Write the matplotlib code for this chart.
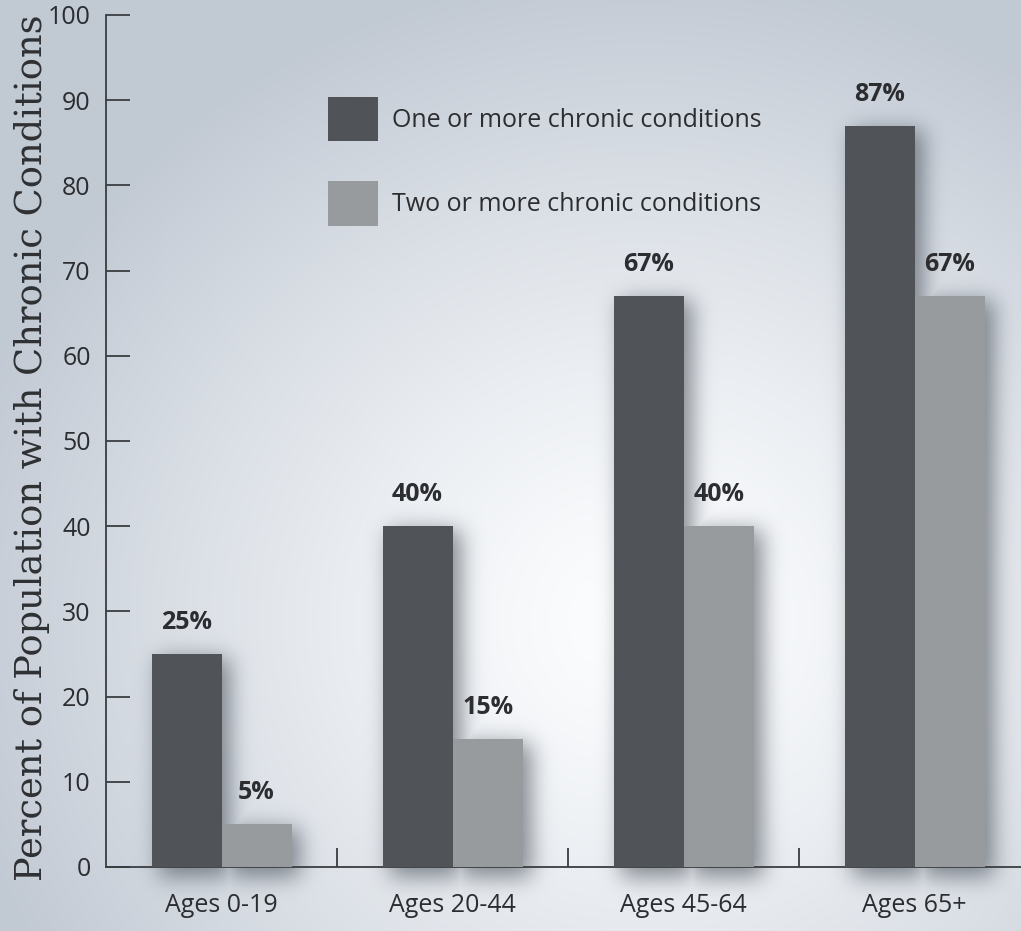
import math
import numpy as np
import matplotlib.pyplot as plt
from matplotlib.ticker import FixedLocator

categories = ['Ages 0-19', 'Ages 20-44', 'Ages 45-64', 'Ages 65+']
one_or_more = [25, 40, 67, 87]
two_or_more = [5, 15, 40, 67]
series_names = ['One or more chronic conditions', 'Two or more chronic conditions']
y_ticks = [0, 10, 20, 30, 40, 50, 60, 70, 80, 90, 100]

dark = '#505459'
light = '#989b9e'
ink = '#2b2d30'
sans = ['Open Sans', 'DejaVu Sans']

W, H = 1021, 931
fig = plt.figure(figsize=(W / 100, H / 100), dpi=100)
bg = fig.add_axes([0, 0, 1, 1], zorder=0)
bg.set_axis_off()
ax = fig.add_axes([106 / W, 1 - 867 / H, (W - 106) / W, 852 / H], zorder=1)
ax.patch.set_alpha(0)

x = np.arange(len(categories))
bw = 0.303
ax.set_xlim(-0.5, 3.46)
ax.set_ylim(0, 100)

b1 = ax.bar(x - bw / 2, one_or_more, bw, color=dark, label=series_names[0], zorder=3)
b2 = ax.bar(x + bw / 2, two_or_more, bw, color=light, label=series_names[1], zorder=3)

for bars, vals in ((b1, one_or_more), (b2, two_or_more)):
    for r, v in zip(bars, vals):
        ax.annotate(f'{v}%', (r.get_x() + r.get_width() / 2, v), xytext=(0, 18),
                    textcoords='offset points', ha='center', va='baseline',
                    fontsize=18, fontweight='bold', color=ink, family=sans)

# background: soft radial gradient plus blurred drop shadows under the bars
yy, xx = np.mgrid[0:H, 0:W]
d = np.sqrt(((xx - 640) / 700.0) ** 2 + ((yy - 620) / 650.0) ** 2)
t = np.clip(d, 0, 1) ** 1.3
white = np.array([0.99, 0.995, 1.0])
edge = np.array([0.76, 0.79, 0.83])
img = white[None, None, :] * (1 - t[..., None]) + edge[None, None, :] * t[..., None]

fig.canvas.draw()
phi = np.vectorize(lambda z: 0.5 * (1 + math.erf(z / math.sqrt(2))))
sig = 11.0
px = np.arange(W) + 0.5
py = np.arange(H) + 0.5
shadow = np.zeros((H, W))
for r in list(b1) + list(b2):
    (x0, y0), (x1, y1) = ax.transData.transform([(r.get_x(), 0), (r.get_x() + r.get_width(), r.get_height())])
    # pixel rows measured from the top of the figure
    top, bot = H - y1, H - y0
    x0, x1, top, bot = x0 + 7, x1 + 8, top + 4, bot + 10
    sx = phi((px - x0) / sig) - phi((px - x1) / sig)
    sy = phi((py - top) / sig) - phi((py - bot) / sig)
    shadow = np.maximum(shadow, sy[:, None] * sx[None, :])
a = 0.6 * shadow
shade = np.array([0.23, 0.26, 0.30])
img = img * (1 - a[..., None]) + shade[None, None, :] * a[..., None]
bg.imshow(img, extent=(0, W, 0, H), aspect='auto', interpolation='bilinear')
bg.set_xlim(0, W)
bg.set_ylim(0, H)

for s in ('top', 'right'):
    ax.spines[s].set_visible(False)
for s in ('left', 'bottom'):
    ax.spines[s].set_color('#3a3d40')
    ax.spines[s].set_linewidth(1.3)

ax.set_yticks(y_ticks)
ax.tick_params(axis='y', direction='in', length=17, width=1.3, color='#3a3d40',
               pad=11, labelsize=18, labelcolor=ink)
ax.set_xticks(x)
ax.set_xticklabels(categories)
ax.tick_params(axis='x', which='major', length=0, pad=19, labelsize=18, labelcolor=ink)
ax.xaxis.set_minor_locator(FixedLocator([0.5, 1.5, 2.5]))
ax.tick_params(axis='x', which='minor', direction='in', length=14, width=1.3, color='#3a3d40')
for lab in ax.get_xticklabels() + ax.get_yticklabels():
    lab.set_family(sans)

ax.set_ylabel('Percent of Population with Chronic Conditions', family=['DejaVu Serif'],
              fontsize=26.5, color='#2e3033')
ax.yaxis.set_label_coords(-0.061, 0.492)

ax.legend(loc='upper left', bbox_to_anchor=(328 / W, 1 - 97 / H), bbox_transform=fig.transFigure,
          frameon=False, handlelength=2.0, handleheight=2.35, labelspacing=1.6,
          handletextpad=0.55, borderaxespad=0, borderpad=0, labelcolor=ink,
          prop={'family': sans, 'size': 18})

fig.savefig('out.png', dpi=100)
